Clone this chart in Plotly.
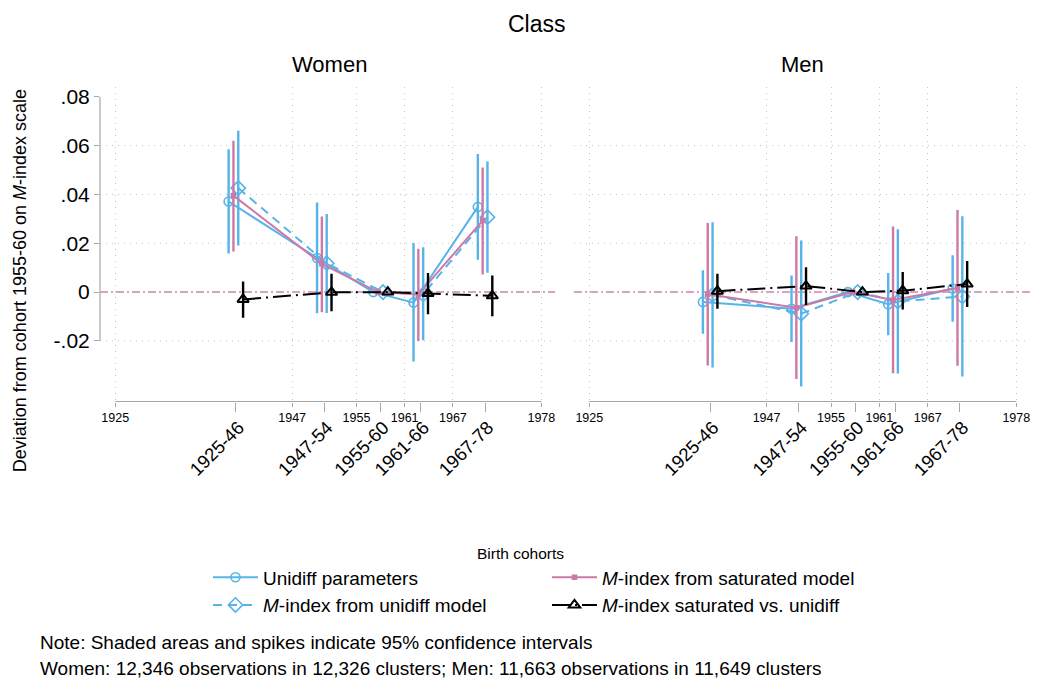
import plotly.graph_objects as go

# ---- categories and axis labels -------------------------------------------
cohorts = ["1925-46", "1947-54", "1955-60", "1961-66", "1967-78"]
cohort_mid = [1940, 1951, 1958, 1963, 1971]          # mean birth year per cohort
boundary_years = [1925, 1947, 1955, 1961, 1967, 1978]
y_tick_vals = [-0.02, 0.0, 0.02, 0.04, 0.06, 0.08]
y_tick_text = ["-.02", "0", ".02", ".04", ".06", ".08"]

# ---- Women: estimates and 95% CI bounds ------------------------------------
w_unidiff = [0.0371, 0.0140, 0.0, -0.0043, 0.0349]
w_unidiff_lo = [0.0158, -0.0087, 0.0, -0.0284, 0.0133]
w_unidiff_hi = [0.0585, 0.0367, 0.0, 0.0201, 0.0566]

w_munidiff = [0.0426, 0.0118, 0.0, -0.0009, 0.0307]
w_munidiff_lo = [0.0191, -0.0085, 0.0, -0.0197, 0.0079]
w_munidiff_hi = [0.0661, 0.0320, 0.0, 0.0184, 0.0535]

w_msat = [0.0395, 0.0116, 0.0, -0.0010, 0.0293]
w_msat_lo = [0.0166, -0.0082, 0.0, -0.0200, 0.0072]
w_msat_hi = [0.0620, 0.0310, 0.0, 0.0178, 0.0510]

w_mdiff = [-0.0030, -0.0001, 0.0, -0.0006, -0.0015]
w_mdiff_lo = [-0.0105, -0.0078, 0.0, -0.0091, -0.0099]
w_mdiff_hi = [0.0044, 0.0075, 0.0, 0.0078, 0.0068]

# ---- Men: estimates and 95% CI bounds --------------------------------------
m_unidiff = [-0.0040, -0.0068, 0.0, -0.0050, 0.0015]
m_unidiff_lo = [-0.0170, -0.0204, 0.0, -0.0177, -0.0121]
m_unidiff_hi = [0.0090, 0.0068, 0.0, 0.0078, 0.0151]

m_munidiff = [-0.0012, -0.0088, 0.0, -0.0038, -0.0018]
m_munidiff_lo = [-0.0309, -0.0386, 0.0, -0.0333, -0.0346]
m_munidiff_hi = [0.0286, 0.0211, 0.0, 0.0257, 0.0311]

m_msat = [-0.0009, -0.0064, 0.0, -0.0032, 0.0017]
m_msat_lo = [-0.0300, -0.0356, 0.0, -0.0332, -0.0302]
m_msat_hi = [0.0283, 0.0229, 0.0, 0.0269, 0.0336]

m_mdiff = [0.0004, 0.0025, 0.0, 0.0006, 0.0033]
m_mdiff_lo = [-0.0068, -0.0053, 0.0, -0.0071, -0.0061]
m_mdiff_hi = [0.0075, 0.0102, 0.0, 0.0082, 0.0127]

# ---- styling ---------------------------------------------------------------
FONT = "Liberation Sans, Arial, Helvetica, sans-serif"
BLUE = "#56b4e9"
PINK = "#cc79a7"
BLACK = "#000000"
AXIS_GREY = "#a6a6a6"
GRID_GREY = "#c4c4c4"
W, H = 1037, 682

series_style = {
    "unidiff": dict(name="Unidiff parameters", color=BLUE, dodge=-0.9,
                    dash="solid", symbol="circle-open", size=9, rank=1, legend="legend"),
    "munidiff": dict(name="<i>M</i>-index from unidiff model", color=BLUE, dodge=0.3,
                     dash="9px,6px", symbol="diamond-open", size=11, rank=2, legend="legend"),
    "msat": dict(name="<i>M</i>-index from saturated model", color=PINK, dodge=-0.3,
                 dash="solid", symbol="square", size=4, rank=3, legend="legend2"),
    "mdiff": dict(name="<i>M</i>-index saturated vs. unidiff", color=BLACK, dodge=0.9,
                  dash="18px,5px,2px,5px", symbol="triangle-up-open", size=10, rank=4,
                  legend="legend2"),
}

panels = [
    dict(xa="x", ya="y", cohort_xa="x3", data={
        "unidiff": (w_unidiff, w_unidiff_lo, w_unidiff_hi),
        "munidiff": (w_munidiff, w_munidiff_lo, w_munidiff_hi),
        "msat": (w_msat, w_msat_lo, w_msat_hi),
        "mdiff": (w_mdiff, w_mdiff_lo, w_mdiff_hi),
    }),
    dict(xa="x2", ya="y2", cohort_xa="x4", data={
        "unidiff": (m_unidiff, m_unidiff_lo, m_unidiff_hi),
        "munidiff": (m_munidiff, m_munidiff_lo, m_munidiff_hi),
        "msat": (m_msat, m_msat_lo, m_msat_hi),
        "mdiff": (m_mdiff, m_mdiff_lo, m_mdiff_hi),
    }),
]

fig = go.Figure()

draw_order = ["unidiff", "munidiff", "msat", "mdiff"]
for pi, panel in enumerate(panels):
    # invisible carrier so the cohort-label axis is rendered
    fig.add_trace(go.Scatter(x=cohort_mid, y=[None] * len(cohort_mid), mode="markers",
                             xaxis=panel["cohort_xa"], yaxis=panel["ya"],
                             marker=dict(opacity=0), showlegend=False, hoverinfo="skip"))
    for key in draw_order:
        st = series_style[key]
        est, lo, hi = panel["data"][key]
        xs = [m + st["dodge"] for m in cohort_mid]
        fig.add_trace(go.Scatter(
            x=xs, y=est, mode="lines+markers",
            name=st["name"], legendgroup=key, legendrank=st["rank"],
            legend=st["legend"], showlegend=(pi == 0),
            xaxis=panel["xa"], yaxis=panel["ya"],
            line=dict(color=st["color"], width=2, dash=st["dash"]),
            marker=dict(symbol=st["symbol"], size=st["size"], color=st["color"],
                        line=dict(color=st["color"], width=2 if key == "mdiff" else 1.6)),
            error_y=dict(type="data", symmetric=False,
                         array=[h - e for h, e in zip(hi, est)],
                         arrayminus=[e - l for e, l in zip(est, lo)],
                         color=st["color"], thickness=2.4, width=0),
            hoverinfo="skip",
        ))

# ---- axes ------------------------------------------------------------------
x_range = [1923.1, 1979.7]
y_range = [-0.0448, 0.0841]
y_dom = [1 - 400.7 / H, 1 - 85 / H]
x_doms = [[100 / W, 555 / W], [574 / W, 1030 / W]]

boundary_axis = dict(
    range=x_range, tickmode="array", tickvals=boundary_years,
    ticktext=[str(b) for b in boundary_years],
    tickfont=dict(family=FONT, size=12.5, color="#000"),
    ticks="outside", ticklen=4, tickwidth=1, tickcolor=AXIS_GREY,
    showgrid=True, gridcolor=GRID_GREY, gridwidth=1, griddash="1px,5px",
    showline=False, zeroline=False, fixedrange=True,
)
cohort_axis = dict(
    range=x_range, tickmode="array", tickvals=cohort_mid, ticktext=cohorts,
    tickangle=-45, tickfont=dict(family=FONT, size=18.5, color="#000"),
    ticks="outside", ticklen=9, tickwidth=1, tickcolor=AXIS_GREY,
    ticklabelstandoff=-2, ticklabelshift=3,
    showgrid=False, showline=False, zeroline=False, fixedrange=True, side="bottom",
)

fig.update_layout(
    xaxis=dict(domain=x_doms[0], anchor="y", **boundary_axis),
    xaxis2=dict(domain=x_doms[1], anchor="y2", **boundary_axis),
    xaxis3=dict(overlaying="x", anchor="y", **cohort_axis),
    xaxis4=dict(overlaying="x2", anchor="y2", **cohort_axis),
    yaxis=dict(domain=y_dom, anchor="x", range=y_range, tickmode="array",
               tickvals=y_tick_vals, ticktext=y_tick_text,
               tickfont=dict(family=FONT, size=21, color="#000"),
               ticks="outside", ticklen=5, tickcolor=AXIS_GREY,
               showgrid=False, showline=False, zeroline=False, fixedrange=True),
    yaxis2=dict(domain=y_dom, anchor="x2", range=y_range, matches="y",
                showticklabels=False, ticks="", showgrid=False, showline=False,
                zeroline=False, fixedrange=True),
)

# ---- axis lines, gridlines and zero reference -------------------------------
shapes = []
grid_vals = [v for v in y_tick_vals if v not in (0.0, max(y_tick_vals))]
for xa, ya in (("x", "y"), ("x2", "y2")):
    for gv in grid_vals:
        shapes.append(dict(type="line", xref=f"{xa} domain", yref=ya, x0=0, x1=1,
                           y0=gv, y1=gv, layer="below",
                           line=dict(color=GRID_GREY, width=1, dash="1px,5px")))
    shapes.append(dict(type="line", xref=f"{xa} domain", yref=ya, x0=0, x1=1,
                       y0=0, y1=0, layer="below",
                       line=dict(color="#d283b1", width=1.5, dash="8px,3px,2px,3px")))
    shapes.append(dict(type="line", xref=xa, yref=f"{ya} domain",
                       x0=min(boundary_years), x1=max(boundary_years), y0=0, y1=0,
                       line=dict(color=AXIS_GREY, width=1.2)))
shapes.append(dict(type="line", xref="x domain", yref="y", x0=0, x1=0,
                   y0=min(y_tick_vals), y1=max(y_tick_vals),
                   line=dict(color=AXIS_GREY, width=1.2)))

# ---- titles and notes --------------------------------------------------------
def px_ann(text, x, y, size, **kw):
    return dict(text=text, x=x / W, y=1 - y / H, xref="paper", yref="paper",
                showarrow=False, font=dict(family=FONT, size=size, color="#000"), **kw)

annotations = [
    px_ann("Class", 537, 22, 23, xanchor="center", yanchor="middle"),
    px_ann("Women", 329, 63, 22, xanchor="center", yanchor="middle"),
    px_ann("Men", 802, 63, 22, xanchor="center", yanchor="middle"),
    px_ann("Deviation from cohort 1955-60 on <i>M</i>-index scale", 20, 280, 18,
           xanchor="center", yanchor="middle", textangle=-90),
    px_ann("Birth cohorts", 520, 553, 15.5, xanchor="center", yanchor="middle"),
    px_ann("Note: Shaded areas and spikes indicate 95% confidence intervals", 38, 642, 19,
           xanchor="left", yanchor="middle"),
    px_ann("Women: 12,346 observations in 12,326 clusters; Men: 11,663 observations in 11,649 clusters",
           38, 668, 19, xanchor="left", yanchor="middle"),
]

legend_common = dict(orientation="v", xanchor="left", yanchor="top",
                     font=dict(family=FONT, size=19, color="#000"),
                     bgcolor="rgba(0,0,0,0)", borderwidth=0, tracegroupgap=0,
                     itemwidth=45)

fig.update_layout(
    width=W, height=682, autosize=False,
    margin=dict(l=0, r=0, t=0, b=0),
    paper_bgcolor="white", plot_bgcolor="white",
    font=dict(family=FONT, color="#000"),
    shapes=shapes, annotations=annotations,
    legend=dict(x=208 / W, y=1 - 558 / H, **legend_common),
    legend2=dict(x=547 / W, y=1 - 558 / H, **legend_common),
)

fig.write_html("out.html")
